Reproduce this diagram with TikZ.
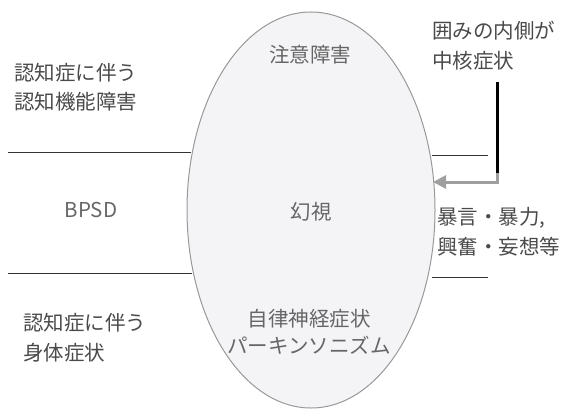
\documentclass[tikz,border=0pt]{standalone}
\usepackage{fontspec}
\setmainfont{Noto Sans CJK JP}
\usetikzlibrary{arrows.meta,shapes.geometric}
\definecolor{txt}{HTML}{4A4A4A}
\definecolor{txtin}{HTML}{666666}
\definecolor{ellfill}{HTML}{F4F4F7}
\definecolor{ellline}{HTML}{999999}
\tikzset{
  lbl/.style={font=\fontsize{20.5}{29.5}\selectfont, text=txt, inner sep=0pt, align=left},
  ctr/.style={font=\fontsize{20.5}{29.5}\selectfont, text=txtin, inner sep=0pt, align=center},
  sep/.style={draw=black!80, line width=0.8pt},
}
\begin{document}
\begin{tikzpicture}[x=1pt,y=-1pt]
\useasboundingbox (0,0) rectangle (569,412);
% ellipse
\node[draw=ellline, fill=ellfill, line width=1pt, ellipse, minimum width=248pt, minimum height=396pt, inner sep=0pt] (ell) at (311,210) {};
% separator lines
\coordinate (l1a) at (8,152); \coordinate (l1b) at (191,152);
\coordinate (l2a) at (8,273); \coordinate (l2b) at (192,273);
\coordinate (r1a) at (432,155); \coordinate (r1b) at (488,155);
\coordinate (r2a) at (432,277); \coordinate (r2b) at (488,277);
\draw[sep] (l1a) -- (l1b);
\draw[sep] (l2a) -- (l2b);
\draw[sep] (r1a) -- (r1b);
\draw[sep] (r2a) -- (r2b);
% texts
\node[ctr] (t1) at (310,55) {注意障害};
\node[ctr] (t2) at (311,212) {幻視};
\node[ctr, font=\fontsize{20.5}{27}\selectfont] (t3) at (309,332) {自律神経症状\\パーキンソニズム};
\node[lbl, anchor=west] (l1) at (14,87) {認知症に伴う\\認知機能障害};
\node[ctr] (l2) at (91,210) {BPSD};
\node[lbl, anchor=west] (l3) at (23,337.5) {認知症に伴う\\身体症状};
\node[lbl, anchor=west] (r1) at (432,45.5) {囲みの内側が\\中核症状};
\node[lbl, anchor=west] (r2) at (437,231.5) {暴言・暴力,\\興奮・妄想等};
% arrow
\coordinate (a0) at (497,82);
\coordinate (a1) at (497,182);
\coordinate (a2) at (433,182);
\draw[black, line width=3pt] (a0) -- (497,174);
\draw[gray!75, line width=3pt, -{Triangle[length=13pt,width=13pt]}] (497,173) -- (a1) -- (a2);
\end{tikzpicture}
\end{document}
